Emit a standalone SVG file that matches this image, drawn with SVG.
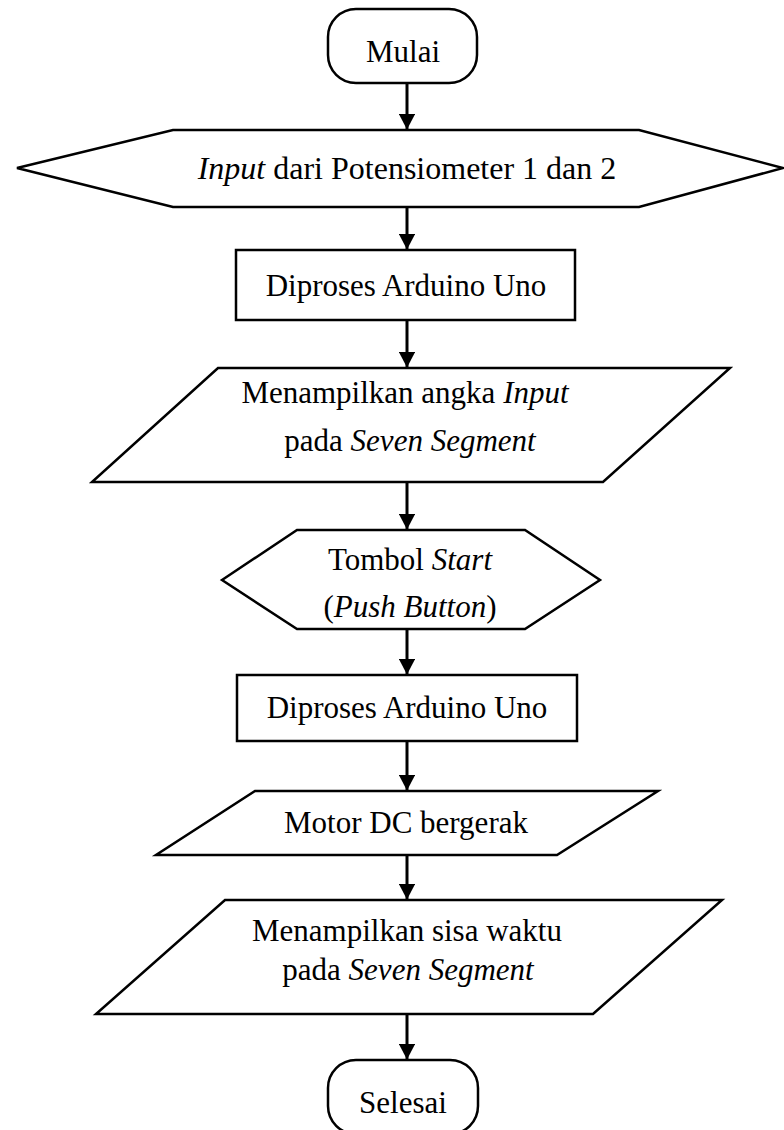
<svg xmlns="http://www.w3.org/2000/svg" width="784" height="1130" viewBox="0 0 784 1130">
<style>
.s{fill:#fff;stroke:#000;stroke-width:2.5;stroke-linejoin:miter}
.t{font-family:"Liberation Serif","Times New Roman",serif;font-size:31px;fill:#000;text-anchor:middle}
.i{font-style:italic}
.c{stroke:#000;stroke-width:3;fill:none}
</style>
<defs>
<marker id="ah" markerWidth="5.4" markerHeight="5.4" refX="5" refY="2.7" orient="auto" markerUnits="strokeWidth">
<path d="M0,0 L5.2,2.7 L0,5.4 Z" fill="#000"/>
</marker>
</defs>
<rect width="784" height="1130" fill="#fff"/>
<g id="connectors">
<line class="c" x1="407" y1="83" x2="407" y2="129" marker-end="url(#ah)"/>
<line class="c" x1="407" y1="207" x2="407" y2="249" marker-end="url(#ah)"/>
<line class="c" x1="407" y1="320" x2="407" y2="367" marker-end="url(#ah)"/>
<line class="c" x1="407" y1="482" x2="407" y2="529" marker-end="url(#ah)"/>
<line class="c" x1="407" y1="629" x2="407" y2="674" marker-end="url(#ah)"/>
<line class="c" x1="407" y1="741" x2="407" y2="790" marker-end="url(#ah)"/>
<line class="c" x1="407" y1="855" x2="407" y2="899" marker-end="url(#ah)"/>
<line class="c" x1="407" y1="1014" x2="407" y2="1059" marker-end="url(#ah)"/>
</g>
<g id="mulai">
<rect class="s" x="328" y="9" width="149" height="74" rx="28" ry="28"/>
<text class="t" x="403" y="62">Mulai</text>
</g>
<g id="input-potensiometer">
<polygon class="s" points="17,168 173,130 639,130 783,168 639,207 173,207"/>
<text class="t" x="407" y="179" style="font-size:32px"><tspan class="i">Input</tspan> dari Potensiometer 1 dan 2</text>
</g>
<g id="proses1">
<rect class="s" x="236" y="250" width="339" height="70"/>
<text class="t" x="406" y="296">Diproses Arduino Uno</text>
</g>
<g id="tampil-input">
<polygon class="s" points="218,368 730,368 603,482 92,482"/>
<text class="t" x="405" y="403">Menampilkan angka <tspan class="i">Input</tspan></text>
<text class="t" x="410" y="451">pada <tspan class="i">Seven Segment</tspan></text>
</g>
<g id="tombol-start">
<polygon class="s" points="222,580 297,530 525,530 600,580 525,629 297,629"/>
<text class="t" x="410" y="570">Tombol <tspan class="i">Start</tspan></text>
<text class="t" x="410" y="617">(<tspan class="i">Push Button</tspan>)</text>
</g>
<g id="proses2">
<rect class="s" x="237" y="675" width="340" height="66"/>
<text class="t" x="407" y="718">Diproses Arduino Uno</text>
</g>
<g id="motor">
<polygon class="s" points="255,791 658,791 557,855 156,855"/>
<text class="t" x="406" y="833">Motor DC bergerak</text>
</g>
<g id="tampil-sisa">
<polygon class="s" points="225,900 722,900 593,1014 96,1014"/>
<text class="t" x="407" y="941">Menampilkan sisa waktu</text>
<text class="t" x="408" y="980">pada <tspan class="i">Seven Segment</tspan></text>
</g>
<g id="selesai">
<rect class="s" x="328" y="1060" width="150" height="74" rx="28" ry="28"/>
<text class="t" x="403" y="1113">Selesai</text>
</g>
</svg>
